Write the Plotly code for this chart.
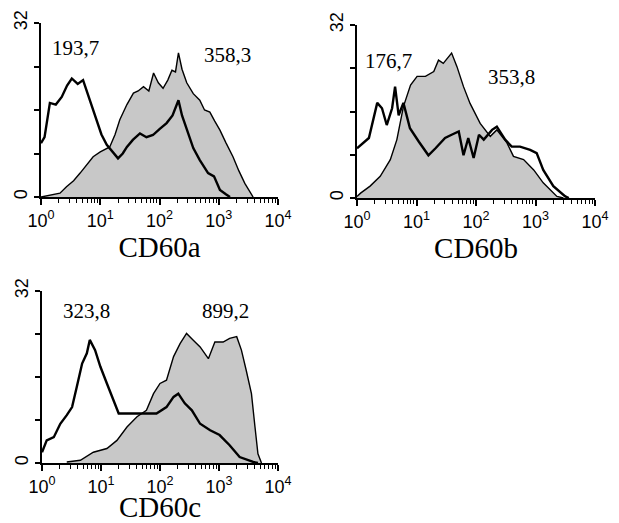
import plotly.graph_objects as go

# ---------------- data (log10 of fluorescence intensity, cell counts) ----------------
a_ctrl_logx = [0.0, 0.06, 0.15, 0.25, 0.35, 0.44, 0.52, 0.62, 0.71, 0.77, 0.83, 0.94, 1.02, 1.11, 1.20, 1.30, 1.38, 1.45, 1.55, 1.67, 1.78, 1.89, 2.00, 2.12, 2.22, 2.32, 2.38, 2.46, 2.57, 2.68, 2.82, 2.92, 3.02, 3.12, 3.19]
a_ctrl_cnt  = [9.9, 11.0, 17.3, 17.0, 18.4, 20.5, 21.8, 20.8, 21.5, 19.5, 17.8, 14.2, 11.5, 9.6, 8.5, 7.1, 8.0, 9.2, 10.5, 11.7, 11.0, 11.4, 12.5, 13.6, 15.0, 17.8, 15.0, 12.3, 9.0, 6.8, 4.4, 3.8, 1.3, 0.5, 0.0]
a_stain_logx = [0.0, 0.32, 0.43, 0.55, 0.66, 0.78, 0.88, 1.00, 1.08, 1.16, 1.25, 1.33, 1.45, 1.56, 1.64, 1.73, 1.82, 1.90, 1.98, 2.06, 2.14, 2.21, 2.27, 2.32, 2.38, 2.46, 2.57, 2.68, 2.76, 2.85, 2.93, 3.02, 3.12, 3.24, 3.34, 3.44, 3.58]
a_stain_cnt  = [0.0, 0.7, 1.9, 3.0, 4.4, 6.0, 7.4, 8.3, 8.8, 9.2, 11.5, 14.2, 17.0, 19.1, 19.5, 20.3, 19.5, 22.8, 21.0, 20.0, 21.5, 23.3, 23.0, 26.5, 23.5, 21.0, 19.0, 17.8, 16.0, 15.6, 14.0, 12.3, 10.0, 7.4, 4.8, 2.5, 0.0]

b_ctrl_logx = [0.0, 0.20, 0.34, 0.42, 0.50, 0.59, 0.64, 0.70, 0.78, 0.89, 1.04, 1.20, 1.32, 1.48, 1.59, 1.71, 1.79, 1.87, 1.96, 2.05, 2.13, 2.27, 2.35, 2.49, 2.60, 2.74, 2.91, 3.02, 3.13, 3.30, 3.50, 3.56]
b_ctrl_cnt  = [9.2, 11.1, 17.6, 16.6, 13.5, 16.6, 20.6, 15.3, 17.6, 12.9, 10.4, 7.9, 9.2, 11.1, 11.7, 12.3, 7.9, 11.1, 7.4, 11.7, 10.8, 12.6, 13.2, 10.8, 9.5, 9.5, 8.9, 8.3, 5.2, 2.2, 0.3, 0.0]
b_stain_logx = [0.0, 0.06, 0.22, 0.39, 0.56, 0.67, 0.78, 0.90, 1.01, 1.15, 1.29, 1.37, 1.45, 1.59, 1.68, 1.79, 1.90, 2.07, 2.24, 2.35, 2.52, 2.63, 2.80, 2.97, 3.13, 3.36, 3.47]
b_stain_cnt  = [0.3, 0.9, 2.2, 4.0, 7.1, 10.8, 16.9, 20.9, 22.5, 22.5, 23.4, 25.5, 24.9, 26.8, 24.3, 20.6, 17.5, 13.8, 11.4, 12.6, 10.2, 7.7, 7.1, 5.2, 2.8, 0.3, 0.0]

c_ctrl_logx = [0.0, 0.08, 0.20, 0.31, 0.42, 0.51, 0.59, 0.68, 0.76, 0.81, 0.90, 0.99, 1.10, 1.21, 1.30, 1.44, 1.61, 1.77, 1.94, 2.11, 2.23, 2.31, 2.42, 2.54, 2.68, 2.85, 3.01, 3.18, 3.35, 3.58, 3.66]
c_ctrl_cnt  = [2.0, 4.2, 4.8, 7.3, 8.9, 10.4, 14.2, 18.5, 20.4, 22.9, 21.0, 17.9, 14.8, 11.7, 9.2, 9.2, 9.2, 9.2, 9.2, 10.4, 12.3, 12.9, 11.1, 9.8, 7.3, 6.1, 5.2, 3.3, 1.1, 0.2, 0.0]
c_stain_logx = [0.42, 0.65, 0.87, 1.10, 1.27, 1.44, 1.61, 1.77, 1.89, 2.00, 2.11, 2.23, 2.34, 2.45, 2.56, 2.68, 2.82, 2.93, 3.07, 3.18, 3.30, 3.38, 3.46, 3.55, 3.61, 3.66, 3.72]
c_stain_cnt  = [0.2, 0.5, 2.0, 2.7, 4.2, 6.7, 8.6, 9.8, 12.9, 14.8, 15.4, 19.8, 22.2, 24.1, 22.9, 21.6, 19.4, 22.5, 22.5, 23.2, 23.5, 21.0, 17.3, 12.9, 6.7, 1.7, 0.0]

panel_titles = ["CD60a", "CD60b", "CD60c"]
ctrl_labels = ["193,7", "176,7", "323,8"]
stain_labels = ["358,3", "353,8", "899,2"]

x_tickvals = [1, 10, 100, 1000, 10000]
x_ticktext = ["10<sup>0</sup>", "10<sup>1</sup>", "10<sup>2</sup>", "10<sup>3</sup>", "10<sup>4</sup>"]
y_tickvals = [0, 8, 16, 24, 32]
y_ticktext = ["0", "", "", "", "32"]

# ---------------- figure ----------------
W, H = 619, 523
fig = go.Figure()

panels = [
    (a_ctrl_logx, a_ctrl_cnt, a_stain_logx, a_stain_cnt),
    (b_ctrl_logx, b_ctrl_cnt, b_stain_logx, b_stain_cnt),
    (c_ctrl_logx, c_ctrl_cnt, c_stain_logx, c_stain_cnt),
]

for i, (cx, cy, sx, sy) in enumerate(panels):
    xa = "x" if i == 0 else f"x{i+1}"
    ya = "y" if i == 0 else f"y{i+1}"
    fig.add_trace(go.Scatter(
        x=[10 ** v for v in sx], y=sy, xaxis=xa, yaxis=ya, mode="lines",
        fill="tozeroy", fillcolor="#c8c8c8",
        line=dict(color="black", width=1.4), showlegend=False, hoverinfo="skip"))
    fig.add_trace(go.Scatter(
        x=[10 ** v for v in cx], y=cy, xaxis=xa, yaxis=ya, mode="lines",
        line=dict(color="black", width=2.4), showlegend=False, hoverinfo="skip"))

# pixel domains of the three panels
px_dom = [
    ((41, 278), (23, 197)),
    ((357, 595), (25, 198)),
    ((42, 278), (291, 463)),
]

layout = dict(
    width=W, height=H,
    margin=dict(l=0, r=0, t=0, b=0, autoexpand=False),
    paper_bgcolor="white", plot_bgcolor="white",
    showlegend=False,
)

tick_font = dict(family="Liberation Sans, Arial, sans-serif", size=18, color="black")
annotations = []
for i, ((x0, x1), (y0, y1)) in enumerate(px_dom):
    sfx = "" if i == 0 else str(i + 1)
    layout["xaxis" + sfx] = dict(
        type="log", range=[0, 4], domain=[x0 / W, x1 / W],
        anchor="y" + sfx, automargin=False,
        tickvals=x_tickvals, ticktext=x_ticktext, tickfont=tick_font,
        ticks="outside", ticklen=6, tickwidth=1.5, tickcolor="black",
        minor=dict(dtick="D1", ticks="outside", ticklen=4, tickwidth=1,
                   tickcolor="black", showgrid=False),
        showline=True, linecolor="black", linewidth=2,
        showgrid=False, zeroline=False,
        title=dict(text=panel_titles[i],
                   font=dict(family="Liberation Serif, Times New Roman, serif", size=29, color="black"),
                   standoff=0),
    )
    layout["yaxis" + sfx] = dict(
        range=[0, 32], domain=[1 - y1 / H, 1 - y0 / H],
        anchor="x" + sfx, automargin=False,
        tickvals=y_tickvals, ticktext=y_ticktext, tickangle=-90,
        tickfont=dict(family="Liberation Sans, Arial, sans-serif", size=18, color="black"),
        ticks="outside", ticklen=5, tickwidth=1.5, tickcolor="black",
        showline=True, linecolor="black", linewidth=2,
        showgrid=False, zeroline=False,
    )

ann_pos = [
    ((75, 48), (227, 55)),
    ((388, 61), (511, 77)),
    ((86, 311), (225, 311)),
]
ann_font = dict(family="Liberation Serif, Times New Roman, serif", size=21, color="black")
for i, ((cxp, cyp), (sxp, syp)) in enumerate(ann_pos):
    annotations.append(dict(x=cxp / W, y=1 - cyp / H, xref="paper", yref="paper",
                            xanchor="center", yanchor="middle",
                            text=ctrl_labels[i], showarrow=False, font=ann_font))
    annotations.append(dict(x=sxp / W, y=1 - syp / H, xref="paper", yref="paper",
                            xanchor="center", yanchor="middle",
                            text=stain_labels[i], showarrow=False, font=ann_font))
layout["annotations"] = annotations

fig.update_layout(**layout)
fig.write_html("out.html", config={"displayModeBar": False},
               post_script="document.body.style.margin='0px';document.body.style.overflow='hidden';")
